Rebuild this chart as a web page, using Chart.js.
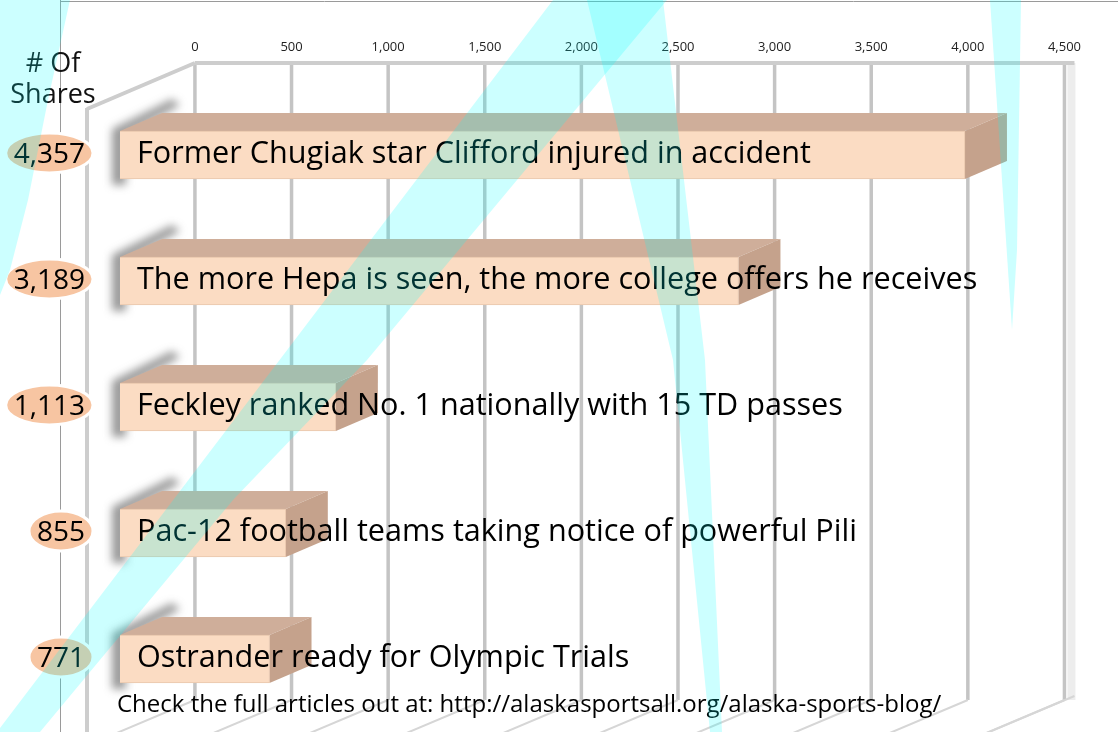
<!DOCTYPE html>
<html lang="en">
<head>
<meta charset="UTF-8">
<title>Most shared Alaska sports stories</title>
<script src="https://cdn.jsdelivr.net/npm/chart.js"></script>
<style>
  html, body { margin: 0; padding: 0; background: #fff; }
  #wrap { width: 1118px; height: 732px; }
</style>
</head>
<body>
<div id="wrap"><canvas id="sharesChart" width="1118" height="732"></canvas></div>
<script>
// data
const headlines = [
  'Former Chugiak star Clifford injured in accident',
  'The more Hepa is seen, the more college offers he receives',
  'Feckley ranked No. 1 nationally with 15 TD passes',
  'Pac-12 football teams taking notice of powerful Pili',
  'Ostrander ready for Olympic Trials'
];
const shares = [4357, 3189, 1113, 855, 771];
const tickValues = [0, 500, 1000, 1500, 2000, 2500, 3000, 3500, 4000, 4500];
const axisTitle = ['# Of', 'Shares'];
const footnote = 'Check the full articles out at: http://alaskasportsall.org/alaska-sports-blog/';

const FONT = '"Open Sans", "Noto Sans", sans-serif';
const depth = { dx: 42, dy: 18 };
const colors = {
  front: '#fbdcc3',
  frontEdge: '#e9c7ad',
  top: '#cfae9a',
  side: '#c5a28c',
  shadow: 'rgba(70,70,70,0.55)',
  grid: '#c4c4c4',
  wall: '#cdcdcd',
  frame: '#9a9a9a',
  pill: '#f7c5a2',
  cyan: 'rgba(0,255,255,0.2)'
};
// background light streaks (decoration only)
const streaks = [
  [[0, 0], [70, 0], [48, 100], [28, 200], [10, 270], [0, 295]],
  [[553, 0], [667, 0], [367, 360], [233, 500], [40, 732], [0, 732], [0, 728]],
  [[587, 0], [663, 0], [705, 360], [722, 732], [710, 732], [673, 360]],
  [[990, 0], [1021, 0], [1017, 250], [1012, 330]]
];

function poly(ctx, pts) {
  ctx.beginPath();
  pts.forEach(([x, y], i) => i ? ctx.lineTo(x, y) : ctx.moveTo(x, y));
  ctx.closePath();
}
function line(ctx, x1, y1, x2, y2) {
  ctx.beginPath();
  ctx.moveTo(x1, y1);
  ctx.lineTo(x2, y2);
  ctx.stroke();
}

const wallPlugin = {
  id: 'wall',
  beforeDraw(chart) {
    const ctx = chart.ctx;
    const xs = chart.scales.x;
    const top = 63, floor = 700;
    ctx.save();
    ctx.fillStyle = '#fff';
    ctx.fillRect(0, 0, chart.width, chart.height);

    // outer frame
    ctx.strokeStyle = colors.frame;
    ctx.lineWidth = 1;
    line(ctx, 60.5, 0, 60.5, chart.height);
    line(ctx, 60, 1.5, chart.width, 1.5);

    // right wall strip
    const xEnd = xs.getPixelForValue(tickValues[tickValues.length - 1]);
    ctx.fillStyle = '#ededed';
    ctx.fillRect(xEnd + 3, top, 8, floor - top);

    // back wall grid
    ctx.strokeStyle = colors.grid;
    ctx.lineWidth = 3.5;
    tickValues.forEach(v => {
      const px = xs.getPixelForValue(v);
      line(ctx, px, top, px, floor);
    });
    ctx.lineWidth = 4;
    ctx.strokeStyle = colors.wall;
    const x0 = xs.getPixelForValue(0);
    line(ctx, x0, top, xEnd + 10, top);
    // side wall edge
    line(ctx, x0, top, 87, 109);
    line(ctx, 87, 108, 87, chart.height);

    // floor lines
    ctx.lineWidth = 2;
    ctx.strokeStyle = '#d6d6d6';
    tickValues.forEach(v => {
      const px = xs.getPixelForValue(v);
      line(ctx, px, floor, px - 90, floor + 38);
    });
    line(ctx, xEnd + 10, floor - 4, xEnd - 80, floor + 34);

    // axis title
    ctx.fillStyle = '#111';
    ctx.font = '27px ' + FONT;
    ctx.textAlign = 'center';
    ctx.textBaseline = 'alphabetic';
    ctx.fillText(axisTitle[0], 53, 72);
    ctx.fillText(axisTitle[1], 53, 103);
    ctx.restore();
  },
  beforeDatasetsDraw(chart) {
    const ctx = chart.ctx;
    const { dx, dy } = depth;
    chart.getDatasetMeta(0).data.forEach(el => {
      const p = el.getProps(['x', 'y', 'base', 'height'], true);
      const l = p.base, r = p.x, t = p.y - p.height / 2, b = p.y + p.height / 2;
      ctx.save();
      // soft shadow on the left and a fin up the side
      ctx.filter = 'blur(4px)';
      ctx.fillStyle = colors.shadow;
      poly(ctx, [[l - 8, t - 2], [l + dx + 10, t - dy - 14], [l + dx + 18, t - dy - 8], [l + 6, t + 4], [l + 6, b + 6], [l - 8, b + 6]]);
      ctx.fill();
      ctx.filter = 'none';
      // top face
      ctx.fillStyle = colors.top;
      poly(ctx, [[l, t], [l + dx, t - dy], [r + dx, t - dy], [r, t]]);
      ctx.fill();
      // side face
      ctx.fillStyle = colors.side;
      poly(ctx, [[r, t], [r + dx, t - dy], [r + dx, b - dy], [r, b]]);
      ctx.fill();
      ctx.restore();
    });
  },
  afterDatasetsDraw(chart) {
    const ctx = chart.ctx;
    const labels = chart.data.labels;
    const values = chart.data.datasets[0].data;
    ctx.save();
    chart.getDatasetMeta(0).data.forEach((el, i) => {
      const cy = el.y;
      // headline on the bar
      ctx.fillStyle = '#000';
      ctx.font = '30.6px ' + FONT;
      ctx.textAlign = 'left';
      ctx.textBaseline = 'alphabetic';
      ctx.fillText(labels[i], el.base + 17, cy + 8);

      // value pill
      const txt = values[i].toLocaleString('en-US');
      ctx.font = '28px ' + FONT;
      const w = ctx.measureText(txt).width;
      const rx = w / 2 + 8, ry = 20;
      const cx = 93 - rx;
      ctx.beginPath();
      ctx.ellipse(cx, cy - 2, rx, ry, 0, 0, Math.PI * 2);
      ctx.fillStyle = colors.pill;
      ctx.fill();
      ctx.lineWidth = 3;
      ctx.strokeStyle = '#fff';
      ctx.stroke();
      ctx.fillStyle = '#000';
      ctx.textAlign = 'center';
      ctx.fillText(txt, cx, cy + 8);
    });
    ctx.font = '24px ' + FONT;
    ctx.textAlign = 'left';
    ctx.fillStyle = '#000';
    ctx.fillText(footnote, 117, 712);
    ctx.restore();
  },
  afterDraw(chart) {
    const ctx = chart.ctx;
    ctx.save();
    ctx.fillStyle = colors.cyan;
    streaks.forEach(s => { poly(ctx, s); ctx.fill(); });
    ctx.restore();
  }
};

new Chart(document.getElementById('sharesChart'), {
  type: 'bar',
  data: {
    labels: headlines,
    datasets: [{
      label: '# Of Shares',
      data: shares,
      xAxisID: 'xb',
      backgroundColor: colors.front,
      borderColor: colors.frontEdge,
      borderWidth: 1,
      barThickness: 48
    }]
  },
  options: {
    indexAxis: 'y',
    responsive: false,
    animation: false,
    events: [],
    layout: { padding: { left: 120, right: 40, top: 0, bottom: 10 } },
    plugins: { legend: { display: false }, tooltip: { enabled: false } },
    scales: {
      x: {
        type: 'linear',
        position: 'top',
        min: -387.75,
        max: 4500,
        afterBuildTicks: axis => { axis.ticks = tickValues.map(v => ({ value: v })); },
        afterFit: axis => { axis.height = 92; },
        grid: { display: false, drawTicks: false },
        border: { display: false },
        ticks: {
          autoSkip: false,
          maxRotation: 0,
          padding: 37,
          color: '#222',
          font: { family: FONT, size: 13 },
          callback: v => v.toLocaleString('en-US')
        }
      },
      xb: { type: 'linear', position: 'bottom', min: 0, max: 4870, display: false },
      y: { type: 'category', display: false, offset: true }
    }
  },
  plugins: [wallPlugin]
});
</script>
</body>
</html>
